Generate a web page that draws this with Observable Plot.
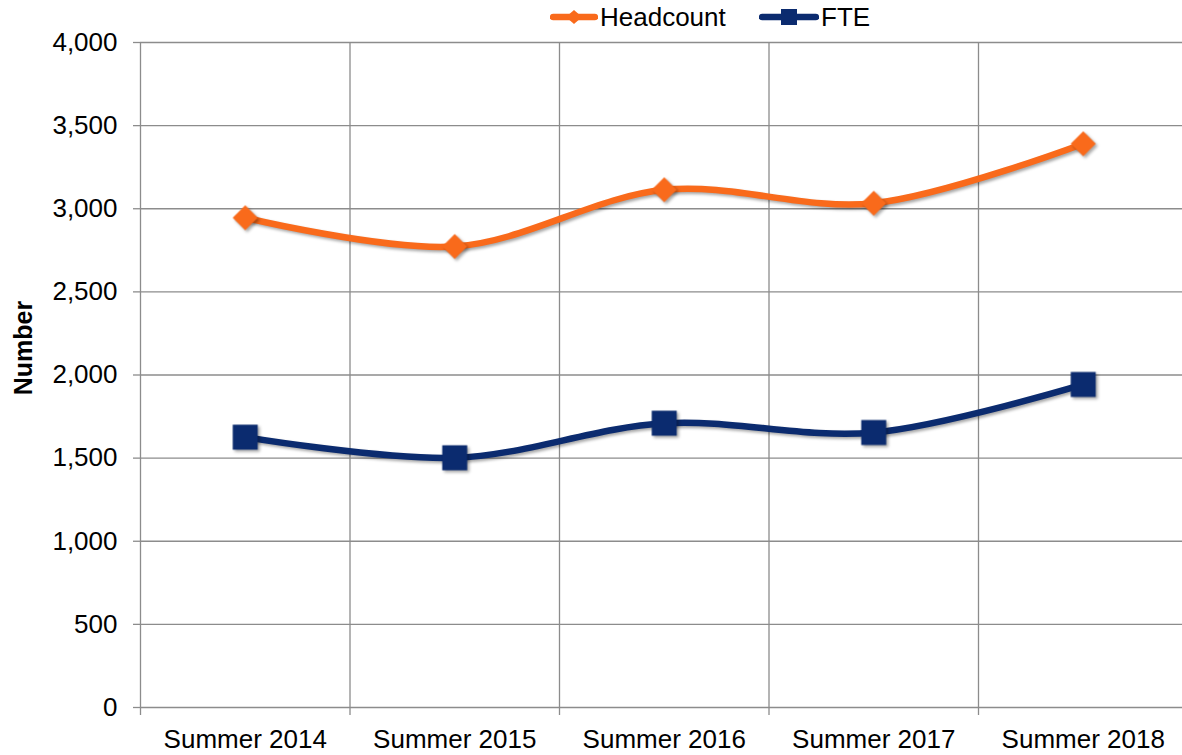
<!DOCTYPE html>
<html>
<head>
<meta charset="utf-8">
<script src="https://cdn.jsdelivr.net/npm/d3@7"></script>
<script src="https://cdn.jsdelivr.net/npm/@observablehq/plot@0.6"></script>
<style>
  html, body { margin: 0; padding: 0; background: #fff; }
  body { width: 1182px; height: 755px; overflow: hidden; font-family: "Liberation Sans", Arial, sans-serif; }
  #legend { position: relative; height: 24px; width: 1182px; }
  .item { position: absolute; top: 0; height: 34px; display: flex; align-items: center; font-size: 26px; color: #000; }
  .item svg { display: block; }
  #chart svg { display: block; overflow: hidden; }
</style>
</head>
<body>
<div id="legend"></div>
<div id="chart"></div>
<script>
const categories = ["Summer 2014", "Summer 2015", "Summer 2016", "Summer 2017", "Summer 2018"];
const headcount = [2946, 2773, 3114, 3033, 3391];
const fte = [1626, 1502, 1710, 1654, 1943];
const yTicks = [0, 500, 1000, 1500, 2000, 2500, 3000, 3500, 4000];
const seriesNames = ["Headcount", "FTE"];
const yLabel = "Number";

const orange = "#F96A1B";
const navy = "#0B2B6F";
const grid = "#8c8c8c";

const idx = d3.range(categories.length);
const boundaries = d3.range(categories.length + 1).map(i => i - 0.5);
const hcData = idx.map(i => ({i, v: headcount[i]}));
const fteData = idx.map(i => ({i, v: fte[i]}));
const shadow = "drop-shadow(2px 2px 1.5px rgba(0,0,0,0.35))";

const chart = Plot.plot({
  width: 1182,
  height: 731,
  marginTop: 18,
  marginBottom: 48,
  marginLeft: 140,
  marginRight: 0,
  style: {fontFamily: "'Liberation Sans', Arial, sans-serif", color: "#000", background: "#fff"},
  x: {type: "linear", domain: [-0.5, categories.length - 0.5], range: [140, 1187.5]},
  y: {domain: [0, 4000], range: [683, 18]},
  marks: [
    Plot.gridY(yTicks, {stroke: grid, strokeOpacity: 1, strokeWidth: 1.3}),
    Plot.gridX(boundaries, {stroke: grid, strokeOpacity: 1, strokeWidth: 1.3}),
    Plot.axisY(yTicks, {tickSize: 7, tickPadding: 16, tickFormat: d3.format(","), fontSize: 26, stroke: grid, strokeWidth: 1.3, label: null}),
    Plot.axisX(boundaries, {tickSize: 8, tickFormat: () => "", stroke: grid, strokeWidth: 1.3, label: null}),
    Plot.axisX(idx, {tickSize: 0, tickPadding: 22, tickFormat: i => categories[i], fontSize: 26, label: null}),
    Plot.text([yLabel], {text: d => d, frameAnchor: "left", textAnchor: "middle", lineAnchor: "middle", rotate: -90, dx: -117, dy: -27, fontSize: 25, fontWeight: "bold", fill: "#000"}),
    Plot.line(hcData, {x: "i", y: "v", stroke: orange, strokeWidth: 6.5, curve: "catmull-rom", imageFilter: shadow}),
    Plot.line(fteData, {x: "i", y: "v", stroke: navy, strokeWidth: 6.5, curve: "catmull-rom", imageFilter: shadow}),
    Plot.dot(hcData, {x: "i", y: "v", symbol: "diamond2", r: 11.3, fill: orange, stroke: null, imageFilter: shadow}),
    Plot.dot(fteData, {x: "i", y: "v", symbol: "square", r: 14.1, fill: navy, stroke: null, imageFilter: shadow})
  ]
});
document.getElementById("chart").appendChild(chart);

// legend
const legend = document.getElementById("legend");
const items = [
  {name: seriesNames[0], color: orange, left: 550, lineW: 48, marker: "diamond"},
  {name: seriesNames[1], color: navy, left: 759, lineW: 60, marker: "square"}
];
for (const it of items) {
  const div = document.createElement("div");
  div.className = "item";
  div.style.left = it.left + "px";
  const w = it.lineW;
  const mk = it.marker === "diamond"
    ? `<path d="M${w/2},10 L${w/2+8},17 L${w/2},24 L${w/2-8},17 Z" fill="${it.color}"/>`
    : `<rect x="${w/2-8}" y="9" width="16" height="16" fill="${it.color}"/>`;
  div.innerHTML = `<svg width="${w}" height="34"><line x1="3" x2="${w-3}" y1="17" y2="17" stroke="${it.color}" stroke-width="6.5" stroke-linecap="round"/>${mk}</svg><span style="margin-left:2px">${it.name}</span>`;
  legend.appendChild(div);
}
</script>
</body>
</html>
